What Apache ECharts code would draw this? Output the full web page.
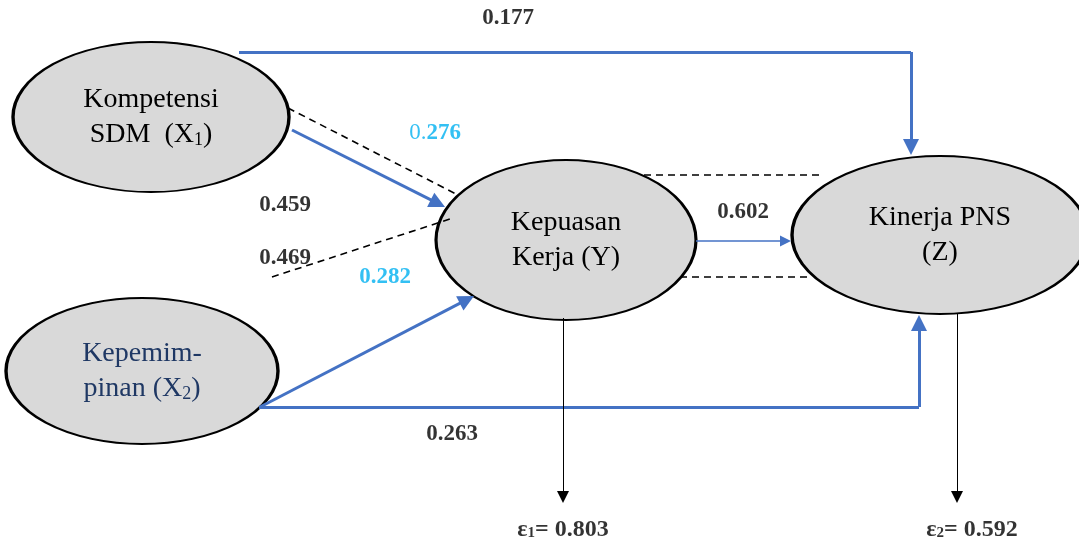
<!DOCTYPE html>
<html>
<head>
<meta charset="utf-8">
<script src="https://cdn.jsdelivr.net/npm/echarts@6/dist/echarts.min.js"></script>
<style>
  html, body { margin: 0; background: #fff; }
  #main { width: 1079px; height: 545px; }
</style>
</head>
<body>
<div id="main"></div>
<script>
// variabel laten
const nodeKeys = ['X1', 'X2', 'Y', 'Z']
const nodeTitle = ['Kompetensi', 'Kepemim-', 'Kepuasan', 'Kinerja PNS']
const nodeSecond = ['SDM  (X', 'pinan (X', 'Kerja (Y', '(Z']
const nodeIndex = ['1', '2', '', '']

// koefisien jalur langsung
const pathFrom = ['X1', 'X1', 'X2', 'X2', 'Y']
const pathTo = ['Z', 'Y', 'Y', 'Z', 'Z']
const pathCoef = [0.177, 0.276, 0.282, 0.263, 0.602]

// korelasi / pengaruh tidak langsung (garis putus-putus)
const corrCoef = [0.459, 0.469]

// residual
const residualIndex = ['1', '2']
const residualValue = [0.803, 0.592]

// ---- layout (pixel space, via hidden axes) ----
const nodePos = { X1: [151, 117], X2: [142, 371], Y: [566, 240], Z: [940, 235] }
const nodeSize = { X1: [276, 150], X2: [272, 146], Y: [260, 160], Z: [296, 158] }

// route of each direct path: points, last point = arrow tip
const pathRoute = {
  'X1-Z': [[239, 52], [911, 52], [911, 155]],
  'X1-Y': [[292, 130], [445, 207]],
  'X2-Y': [[260, 407], [474, 296]],
  'X2-Z': [[259, 407], [919, 407], [919, 315]],
  'Y-Z': [[696, 241], [791, 241]]
}
const pathLabelPos = {
  'X1-Z': [508, 18], 'X1-Y': [435, 133], 'X2-Y': [385, 277], 'X2-Z': [452, 434], 'Y-Z': [743, 212]
}
const dashRoute = [
  [[288, 108], [458, 195]],
  [[272, 277], [453, 218]],
  [[644, 175], [823, 175]],
  [[680, 277], [812, 277]]
]
const corrLabelPos = [[285, 205], [285, 258]]
const residualRoute = [[[563, 318], [563, 503]], [[957, 313], [957, 503]]]
const residualLabelPos = [[563, 530], [972, 530]]

const BLUE = '#4472C4'
const CYAN = '#00B0F0'
const SERIF = 'Liberation Serif'

// split route into plain segments + arrow segment; pull arrow end back by half head
function splitRoute(pts, head) {
  const plain = []
  for (let i = 0; i < pts.length - 2; i++) plain.push({ coords: [pts[i], pts[i + 1]] })
  const a = pts[pts.length - 2], b = pts[pts.length - 1]
  const dx = b[0] - a[0], dy = b[1] - a[1], len = Math.hypot(dx, dy)
  const end = [b[0] - dx / len * head / 2, b[1] - dy / len * head / 2]
  return { plain, arrow: { coords: [a, end] } }
}

const thickPlain = [], thickArrow = [], thinArrow = []
pathFrom.forEach((f, i) => {
  const key = f + '-' + pathTo[i]
  const thin = key === 'Y-Z'
  const r = splitRoute(pathRoute[key], thin ? 11 : 16)
  if (thin) { thinArrow.push(r.arrow) } else { thickPlain.push(...r.plain); thickArrow.push(r.arrow) }
})
const residualArrow = residualRoute.map(r => splitRoute(r, 12).arrow)

const nodeData = nodeKeys.map((k, i) => {
  const t = k === 'X2' ? 'b' : 'n'
  return {
    value: nodePos[k],
    symbolSize: nodeSize[k],
    label: {
      formatter: `{${t}|${nodeTitle[i]}}\n{${t}|${nodeSecond[i]}}` +
        (nodeIndex[i] ? `{${t}s|${nodeIndex[i]}}` : '') + `{${t}|)}`
    }
  }
})

const labelData = []
pathFrom.forEach((f, i) => {
  const key = f + '-' + pathTo[i]
  const txt = pathCoef[i].toFixed(3)
  let fmt = `{k|${txt}}`
  if (key === 'X1-Y') fmt = `{cl|${txt.slice(0, 2)}}{c|${txt.slice(2)}}`
  else if (key === 'X2-Y') fmt = `{c|${txt}}`
  labelData.push({ value: pathLabelPos[key], label: { formatter: fmt } })
})
corrCoef.forEach((v, i) => labelData.push({ value: corrLabelPos[i], label: { formatter: `{k|${v.toFixed(3)}}` } }))
residualValue.forEach((v, i) => labelData.push({
  value: residualLabelPos[i],
  label: { formatter: `{e|ε}{es|${residualIndex[i]}}{e|= ${v.toFixed(3)}}` }
}))

const chart = echarts.init(document.getElementById('main'))
chart.setOption({
  animation: false,
  grid: { left: 0, right: 0, top: 0, bottom: 0 },
  xAxis: { type: 'value', min: 0, max: 1079, show: false },
  yAxis: { type: 'value', min: 0, max: 545, inverse: true, show: false },
  series: [
    {
      type: 'scatter', z: 1, symbol: 'circle', data: nodeData,
      itemStyle: { color: '#D9D9D9', borderColor: '#000', borderWidth: 2.5, opacity: 1 },
      label: {
        show: true, position: 'inside', align: 'center',
        rich: {
          n: { fontFamily: SERIF, fontSize: 28, lineHeight: 35, color: '#000' },
          ns: { fontFamily: SERIF, fontSize: 18, lineHeight: 35, color: '#000', verticalAlign: 'bottom', padding: [0, 0, 3, 0] },
          b: { fontFamily: SERIF, fontSize: 28, lineHeight: 35, color: '#1F3864' },
          bs: { fontFamily: SERIF, fontSize: 18, lineHeight: 35, color: '#1F3864', verticalAlign: 'bottom', padding: [0, 0, 3, 0] }
        }
      },
      emphasis: { disabled: true }
    },
    {
      type: 'lines', coordinateSystem: 'cartesian2d', z: 3, data: dashRoute.map(c => ({ coords: c })),
      lineStyle: { color: '#000', width: 1.6, type: [7, 5], opacity: 1 }, symbol: 'none', silent: true
    },
    {
      type: 'lines', coordinateSystem: 'cartesian2d', z: 3, data: thickPlain,
      lineStyle: { color: BLUE, width: 3, opacity: 1 }, symbol: 'none', silent: true
    },
    {
      type: 'lines', coordinateSystem: 'cartesian2d', z: 3, data: thickArrow,
      lineStyle: { color: BLUE, width: 3, opacity: 1 }, symbol: ['none', 'triangle'], symbolSize: 16, silent: true
    },
    {
      type: 'lines', coordinateSystem: 'cartesian2d', z: 3, data: thinArrow,
      lineStyle: { color: BLUE, width: 1.5, opacity: 1 }, symbol: ['none', 'triangle'], symbolSize: 11, silent: true
    },
    {
      type: 'lines', coordinateSystem: 'cartesian2d', z: 3, data: residualArrow,
      lineStyle: { color: '#000', width: 1, opacity: 1 }, symbol: ['none', 'triangle'], symbolSize: 12, silent: true
    },
    {
      type: 'scatter', z: 5, symbolSize: 0, data: labelData, silent: true,
      label: {
        show: true, position: 'inside', align: 'center',
        rich: {
          k: { fontFamily: SERIF, fontSize: 23, fontWeight: 'bold', color: '#000' },
          c: { fontFamily: SERIF, fontSize: 23, fontWeight: 'bold', color: CYAN },
          cl: { fontFamily: SERIF, fontSize: 23, color: CYAN },
          e: { fontFamily: SERIF, fontSize: 24, fontWeight: 'bold', color: '#000', lineHeight: 28 },
          es: { fontFamily: SERIF, fontSize: 15, fontWeight: 'bold', color: '#000', lineHeight: 28, verticalAlign: 'bottom', padding: [0, 0, 3, 0] }
        }
      }
    }
  ]
})
</script>
</body>
</html>
